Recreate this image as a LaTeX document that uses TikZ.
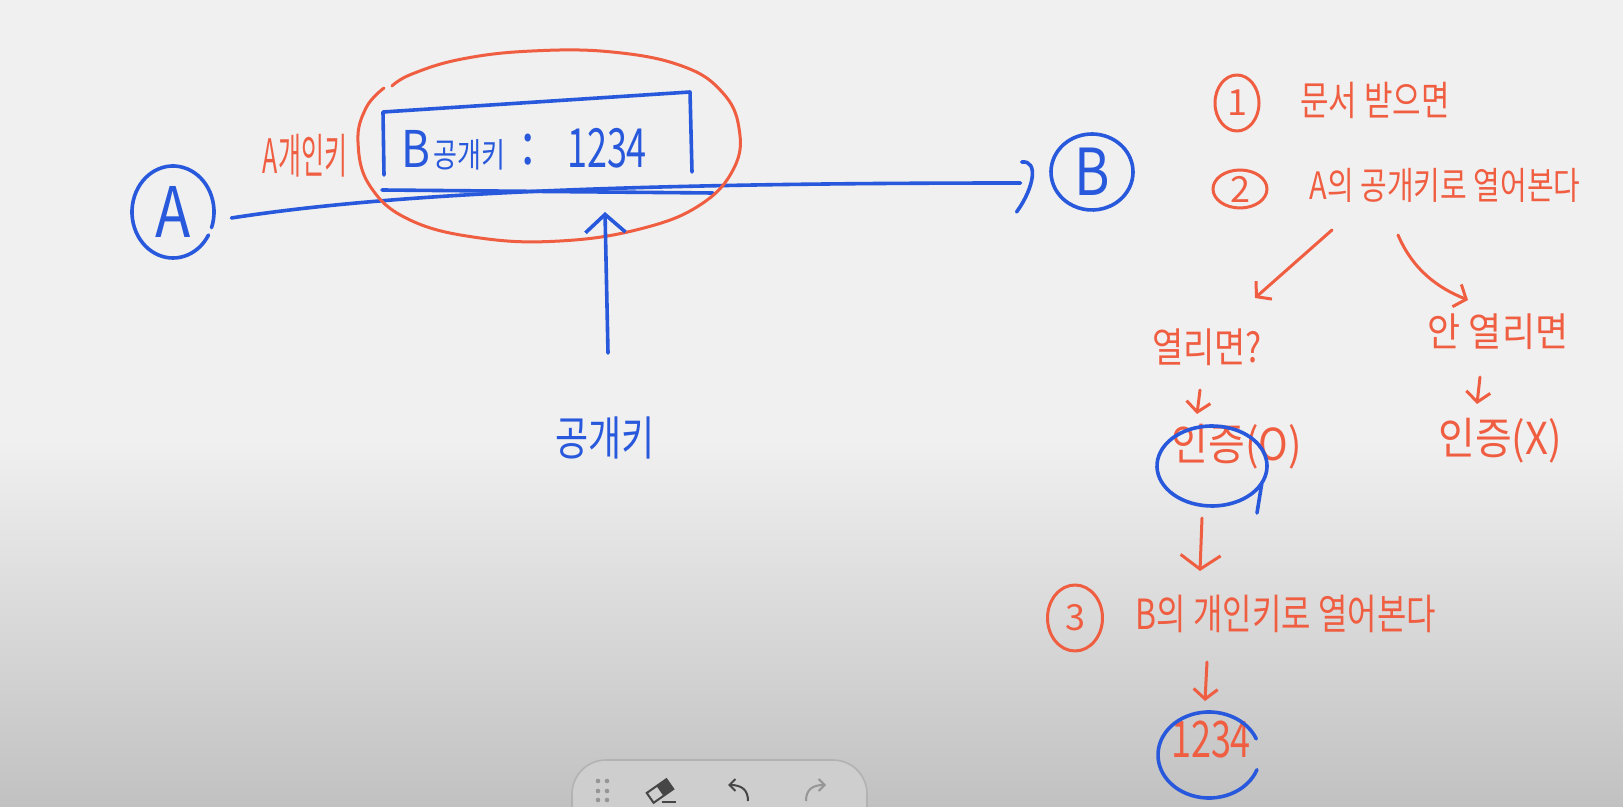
\documentclass[tikz,border=0pt]{standalone}
\usepackage{graphicx}
\usepackage{fontspec}
\setmainfont{Noto Sans CJK KR}
\usetikzlibrary{arrows.meta,shapes.geometric,calc}

\definecolor{penblue}{RGB}{40,88,220}
\definecolor{penred}{RGB}{240,94,66}
\definecolor{boardtop}{RGB}{240,240,240}
\definecolor{boardlow}{RGB}{193,193,193}
\definecolor{barfill}{RGB}{206,206,206}
\definecolor{barline}{RGB}{178,178,178}
\definecolor{icondark}{RGB}{70,70,70}
\definecolor{iconlight}{RGB}{150,150,150}

% handwriting is tall and narrow: size, vertical stretch, text
\newcommand{\hand}[3]{{\fontsize{#1}{#1}\selectfont\scalebox{1}[#2]{#3}}}

\tikzset{
  bluepen/.style={draw=penblue, line width=1.8pt, line cap=round, line join=round},
  redpen/.style={draw=penred, line width=1.5pt, line cap=round, line join=round},
  bluetext/.style={text=penblue, inner sep=1pt},
  redtext/.style={text=penred, inner sep=1pt},
  barb/.style={-{Straight Barb[length=5pt,width=12pt]}},
  bigbarb/.style={-{Straight Barb[length=7pt,width=20pt]}},
  numcirc/.style={ellipse, redpen, text=penred, inner sep=0pt, font=\fontsize{18pt}{18pt}\selectfont},
}

\begin{document}
\begin{tikzpicture}[x=0.5pt,y=-0.5pt]
% board
\useasboundingbox (0,0) rectangle (1623,807);
\fill[boardtop] (0,0) rectangle (1623,440);
\shade[top color=boardtop, bottom color=boardlow] (0,440) rectangle (1623,807);

% sender and receiver
\node[ellipse, bluetext, minimum width=41pt, minimum height=46pt] (A) at (173,212) {\hand{29pt}{1.2}{A}};
\node[ellipse, bluetext, minimum width=41pt, minimum height=38pt] (B) at (1092,172) {\hand{27pt}{1.2}{B}};
\draw[bluepen] (A.center) ++(20:41 and 46) arc[start angle=20, end angle=-330, x radius=41, y radius=46];
\draw[bluepen] (B.center) ++(35:41 and 38) arc[start angle=35, end angle=-330, x radius=41, y radius=38];

% message line A -> B
\draw[bluepen] ([shift={(17,6)}]A.east) .. controls (380,195) and (600,183) .. ([shift={(-30,11)}]B.west);
\draw[bluepen] ([shift={(-29,-10)}]B.west) .. controls +(17,-2) and +(18,-25) .. ([shift={(-34,40)}]B.west);

% envelope with the key
\node[bluetext] (keyname) at (453,150) {\hand{22pt}{1.15}{B}\,\hand{13pt}{1.3}{공개키}};
\node[bluetext] (keycolon) at (528,150) {\hand{24pt}{1.2}{:}};
\node[bluetext] (keyval) at (607,148) {\hand{18pt}{1.5}{1234}};
\draw[bluepen] (384,175) -- (383,112) -- (690,92) -- (692,172);
\draw[bluepen] (382,190) -- (713,193);
\draw[redpen] plot[smooth, tension=0.7] coordinates {(384,88) (366,108) (358,142) (370,186) (410,220) (480,238) (560,241) (640,229) (700,205) (734,168) (739,128) (722,92) (682,66) (612,52) (532,51) (462,59) (412,74) (392,86)};
\node[redtext] (privkey) at (305,156) {\hand{12.5pt}{1.9}{A개인키}};

% public key note
\node[bluetext] (pubnote) at (605,438) {\hand{18pt}{1.3}{공개키}};
\draw[bluepen, -{Straight Barb[length=9pt,width=20pt]}] ([shift={(3,-85)}]pubnote.center) -- ([shift={(-2,64)}]keyval.center);

% steps on the right
\node[numcirc, minimum width=22pt, minimum height=28pt] (n1) at (1237,103) {1};
\node[redtext] (step1) at (1375,100) {\hand{15.5pt}{1.3}{문서 받으면}};
\node[numcirc, minimum width=27pt, minimum height=19pt] (n2) at (1240,189) {2};
\node[redtext] (step2) at (1445,185) {\hand{14.5pt}{1.3}{A의 공개키로 열어본다}};
\node[redtext] (open) at (1207,347) {\hand{17pt}{1.2}{열리면?}};
\node[redtext] (notopen) at (1498,332) {\hand{18pt}{1.1}{안 열리면}};
\node[redtext] (authok) at (1237,447) {\hand{20pt}{1.1}{인증(O)}};
\node[redtext] (authno) at (1500,441) {\hand{20pt}{1.1}{인증(X)}};
\node[numcirc, minimum width=27.5pt, minimum height=33pt] (n3) at (1075,618) {3};
\node[redtext] (step3) at (1286,614) {\hand{16pt}{1.3}{B의 개인키로 열어본다}};
\node[redtext] (result) at (1211,740) {\hand{18pt}{1.4}{1234}};

\draw[redpen,barb] ([shift={(-113,45)}]step2.center) -- ([shift={(48,-49)}]open.center);
\draw[redpen,barb] ([shift={(-47,50)}]step2.center) .. controls +(15,35) and +(-30,-12) .. ([shift={(-30,-32)}]notopen.center);
\draw[redpen,barb] ([shift={(-7,43)}]open.center) -- ([shift={(-40,-33)}]authok.center);
\draw[redpen,barb] ([shift={(-18,45)}]notopen.center) -- ([shift={(-23,-37)}]authno.center);
\draw[redpen,bigbarb] ([shift={(-35,71)}]authok.center) -- ([shift={(-86,-43)}]step3.center);
\draw[redpen,barb] ([shift={(-79,48)}]step3.center) -- ([shift={(-6,-39)}]result.center);

% blue rings
\draw[bluepen] ([shift={(-25,19)}]authok.center) ++(21:55 and 40) arc[start angle=21, end angle=385, x radius=55, y radius=40] -- ([shift={(20,66)}]authok.center);
\draw[bluepen] ([shift={(-2,15)}]result.center) ++(20:51 and 43) arc[start angle=20, end angle=338, x radius=51, y radius=43];

% toolbar
\draw[fill=barfill, draw=barline, line width=0.8pt, rounded corners=17pt] (572,760) rectangle (867,850);
\foreach \y in {781,791,800} {
  \fill[iconlight] (598,\y) circle[radius=2.3];
  \fill[iconlight] (607,\y) circle[radius=2.3];
}
\draw[icondark, line width=1pt, rotate around={35:(660,791)}] (648,785) rectangle (672,797);
\fill[icondark, rotate around={35:(660,791)}] (660,785) rectangle (672,797);
\draw[icondark, line width=1pt] (662,802) -- (676,802);
\draw[icondark, line width=1pt, -{Straight Barb[length=3pt,width=6pt]}] (748,801) .. controls (748,790) and (742,785) .. (728,785);
\draw[iconlight, line width=1pt, -{Straight Barb[length=3pt,width=6pt]}] (806,801) .. controls (806,790) and (812,785) .. (826,785);
\end{tikzpicture}
\end{document}
